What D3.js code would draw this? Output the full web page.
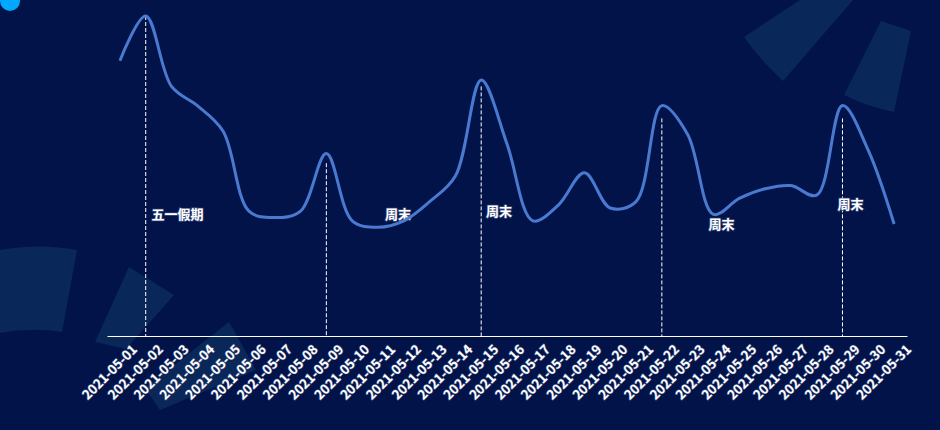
<!DOCTYPE html>
<html lang="zh">
<head>
  <meta charset="UTF-8">
  <script src="https://d3js.org/d3.v7.min.js"></script>
  <style>
    body { margin: 0; background: #02134a; }
    text { font-family: "Noto Sans CJK SC", "Noto Sans", sans-serif; }
  </style>
</head>
<body>
  <div id="chart"></div>
  <script>
    // data
    const dates = d3.range(1, 32).map(d => "2021-05-" + String(d).padStart(2, "0"));
    const values = [86, 100, 78, 72, 64, 39, 37, 39, 57, 36, 34, 36, 42, 50, 80, 60, 36, 41, 51, 40, 42, 72, 63, 38, 43, 46, 47, 44, 72, 58, 35];
    const markDates = ["2021-05-02", "2021-05-09", "2021-05-15", "2021-05-22", "2021-05-29"];
    const markTops = [100, 54, 78, 68, 68];
    const markLabels = ["五一假期", "周末", "周末", "周末", "周末"];
    const labelDates = ["2021-05-03", "2021-05-11", "2021-05-16", "2021-05-24", "2021-05-29"];
    const labelValues = [38, 38, 39, 35, 41];

    const W = 940, H = 430;
    const svg = d3.select("#chart").append("svg").attr("width", W).attr("height", H);

    // background decorations
    const deco = "#0a2c5c";
    svg.append("circle").attr("cx", 10).attr("cy", 1).attr("r", 10).attr("fill", "#00a8ff");
    svg.append("path").attr("fill", deco).attr("opacity", 0.85)
      .attr("d", "M0,250 Q40,243 77,250 L62,332 Q30,327 0,333 Z");
    svg.append("path").attr("fill", deco).attr("opacity", 0.85)
      .attr("d", "M129,267 L174,295 L126,349 L95,342 Z");
    svg.append("path").attr("fill", deco).attr("opacity", 0.85)
      .attr("d", "M145,388 L229,322 L256,370 L160,410 Z");
    svg.append("path").attr("fill", deco).attr("opacity", 0.85)
      .attr("d", "M744,37 L800,0 L853,0 L783,81 Q760,60 744,37 Z");
    svg.append("path").attr("fill", deco).attr("opacity", 0.85)
      .attr("d", "M881,21 L911,31 L894,112 Q868,107 844,95 Z");

    const x = d3.scaleBand().domain(dates).range([107, 907]);
    const cx = d => x(d) + x.bandwidth() / 2;
    const y = d3.scaleLinear().domain([0, 100]).range([336, 16]);

    // axis
    const axis = svg.append("g").attr("transform", "translate(0,336)")
      .call(d3.axisBottom(x).tickSize(0).tickPadding(10));
    axis.select(".domain").attr("stroke", "#fff");
    axis.selectAll("text")
      .attr("fill", "#fff").attr("font-size", 13).attr("font-weight", "bold")
      .style("paint-order", "stroke").attr("stroke", "#3a4a7a").attr("stroke-width", 1.2)
      .attr("transform", "rotate(-45)").attr("text-anchor", "end")
      .attr("dx", "0.2em").attr("dy", "1em");

    // mark lines
    svg.selectAll(".mark").data(markDates).enter().append("line")
      .attr("x1", d => cx(d)).attr("x2", d => cx(d))
      .attr("y1", (d, i) => y(markTops[i])).attr("y2", 336)
      .attr("stroke", "#fff").attr("stroke-width", 1).attr("stroke-dasharray", "4,2");

    const labelShift = [6, 20, -8, 8, 8];
    svg.selectAll(".lbl").data(markLabels).enter().append("text")
      .attr("x", (d, i) => cx(labelDates[i]) + labelShift[i])
      .attr("y", (d, i) => y(labelValues[i]))
      .attr("text-anchor", "middle").attr("dy", "0.35em")
      .attr("fill", "#fff").attr("font-size", 13).attr("font-weight", "bold")
      .style("paint-order", "stroke").attr("stroke", "#3a4a7a").attr("stroke-width", 1.5)
      .text(d => d);

    // line
    const line = d3.line().x((d, i) => cx(dates[i])).y(d => y(d)).curve(d3.curveCatmullRom.alpha(0.5));
    svg.append("path").datum(values).attr("d", line)
      .attr("fill", "none").attr("stroke", "#4a7ad0").attr("stroke-width", 3);
  </script>
</body>
</html>
